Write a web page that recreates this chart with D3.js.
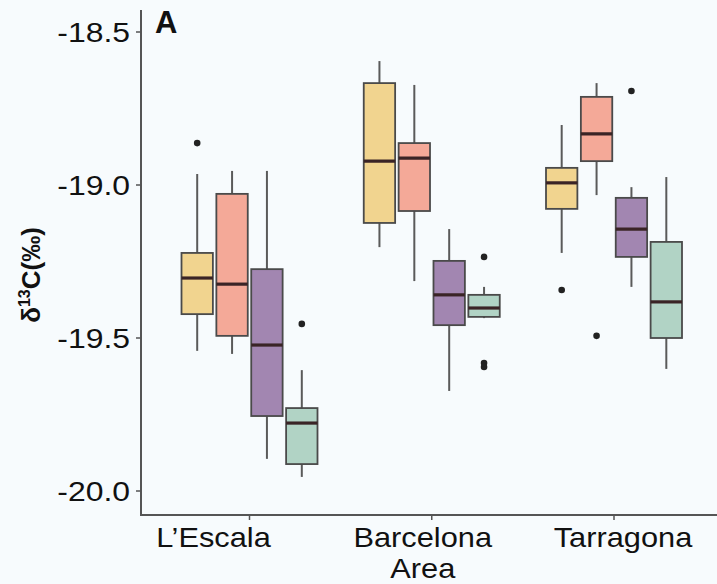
<!DOCTYPE html>
<html>
<head>
<meta charset="utf-8">
<script src="https://cdn.jsdelivr.net/npm/d3@7"></script>
<style>
  html, body { margin: 0; padding: 0; background: #f7fbfd; }
  svg { display: block; font-family: "Liberation Sans", Arial, sans-serif; }
</style>
</head>
<body>
<svg id="chart" width="717" height="584"></svg>
<script>
// ---------- data ----------
const sites = ["L’Escala", "Barcelona Area", "Tarragona"];
const siteLabels = [["L’Escala"], ["Barcelona", "Area"], ["Tarragona"]];
const series = ["S1", "S2", "S3", "S4"];
const colors = ["#f1d48f", "#f4a998", "#a286b1", "#b1d3c5"];
const yTicks = [-18.5, -19.0, -19.5, -20.0];

// rows = sites, columns = series
const whiskerHigh = [
  [-18.964, -18.954, -18.954, -19.605],
  [-18.595, -18.673, -19.144, -19.333],
  [-18.804, -18.667, -19.007, -18.974]
];
const q3 = [
  [-19.222, -19.029, -19.275, -19.729],
  [-18.667, -18.863, -19.248, -19.359],
  [-18.944, -18.712, -19.042, -19.186]
];
const median = [
  [-19.304, -19.324, -19.523, -19.778],
  [-18.922, -18.912, -19.359, -19.402],
  [-18.993, -18.833, -19.144, -19.382]
];
const q1 = [
  [-19.422, -19.493, -19.755, -19.912],
  [-19.124, -19.085, -19.458, -19.431],
  [-19.078, -18.922, -19.235, -19.500]
];
const whiskerLow = [
  [-19.542, -19.552, -19.895, -19.954],
  [-19.203, -19.314, -19.673, -19.435],
  [-19.222, -19.033, -19.333, -19.601]
];
// outliers: [site index, series index, value]
const outliers = [
  [0, 0, -18.863], [0, 3, -19.454],
  [1, 3, -19.235], [1, 3, -19.582], [1, 3, -19.595],
  [2, 0, -19.343], [2, 1, -19.493], [2, 2, -18.693]
];

// ---------- layout ----------
const svg = d3.select("#chart");
const panel = { left: 141, right: 717, top: 10, bottom: 515 };
const labelShift = [-36, -9, 9];
const stretch = 1.14; // horizontal stretch of the axis texts

const y = d3.scaleLinear().domain([-18.5, -20.0]).range([32, 491]);
const xSite = d3.scalePoint().domain(sites).range([249.5, 614]);
const xSeries = d3.scaleBand().domain(series).range([-68, 68]).paddingInner(0.1);

// boxes
const boxes = [];
sites.forEach((s, i) => series.forEach((g, j) => boxes.push({
  i, j, site: s, ser: g,
  wh: whiskerHigh[i][j], q3: q3[i][j], med: median[i][j], q1: q1[i][j], wl: whiskerLow[i][j]
})));

const gBox = svg.append("g").selectAll("g").data(boxes).join("g")
  .attr("transform", d => `translate(${xSite(d.site) + xSeries(d.ser)},0)`);
const bw = xSeries.bandwidth();

gBox.append("line")
  .attr("x1", bw / 2).attr("x2", bw / 2)
  .attr("y1", d => y(d.wh)).attr("y2", d => y(d.q3))
  .attr("stroke", "#5a5a5a").attr("stroke-width", 2);
gBox.append("line")
  .attr("x1", bw / 2).attr("x2", bw / 2)
  .attr("y1", d => y(d.q1)).attr("y2", d => y(d.wl))
  .attr("stroke", "#5a5a5a").attr("stroke-width", 2);
gBox.append("rect")
  .attr("x", 0).attr("width", bw)
  .attr("y", d => y(d.q3)).attr("height", d => y(d.q1) - y(d.q3))
  .attr("fill", d => colors[d.j])
  .attr("stroke", "#4a4a4a").attr("stroke-width", 1.8);
gBox.append("line")
  .attr("x1", 0).attr("x2", bw)
  .attr("y1", d => y(d.med)).attr("y2", d => y(d.med))
  .attr("stroke", "#3a2426").attr("stroke-width", 3.2);

// outliers
svg.append("g").selectAll("circle").data(outliers).join("circle")
  .attr("cx", d => xSite(sites[d[0]]) + xSeries(series[d[1]]) + bw / 2)
  .attr("cy", d => y(d[2]))
  .attr("r", 3.3)
  .attr("fill", "#222");

// y axis
const yAxis = svg.append("g").attr("transform", `translate(${panel.left},0)`);
yAxis.append("line")
  .attr("x1", 0).attr("x2", 0).attr("y1", panel.top).attr("y2", panel.bottom)
  .attr("stroke", "#555").attr("stroke-width", 2);
const yt = yAxis.selectAll("g.t").data(yTicks).join("g").attr("class", "t")
  .attr("transform", d => `translate(0,${y(d)})`);
yt.append("line").attr("x1", -5).attr("x2", 0).attr("stroke", "#555").attr("stroke-width", 1.5);
yt.append("text")
  .attr("transform", `scale(${stretch},1)`)
  .attr("x", -11 / stretch).attr("dy", "0.36em")
  .attr("text-anchor", "end")
  .attr("font-size", 28).attr("fill", "#111")
  .text(d => d3.format(".1f")(d).replace("−", "-"));

// x axis
const xAxis = svg.append("g").attr("transform", `translate(0,${panel.bottom})`);
xAxis.append("line")
  .attr("x1", panel.left - 1).attr("x2", panel.right).attr("y1", 0).attr("y2", 0)
  .attr("stroke", "#555").attr("stroke-width", 2);
const xt = xAxis.selectAll("g.t").data(sites).join("g").attr("class", "t")
  .attr("transform", d => `translate(${xSite(d)},0)`);
xt.append("line").attr("y1", 0).attr("y2", 5).attr("stroke", "#555").attr("stroke-width", 1.5);
xt.append("text")
  .attr("transform", `scale(${stretch},1)`)
  .attr("text-anchor", "middle")
  .attr("font-size", 27).attr("fill", "#111")
  .attr("x", (d, i) => labelShift[i] / stretch)
  .selectAll("tspan").data((d, i) => siteLabels[i]).join("tspan")
  .attr("x", function () { return d3.select(this.parentNode).attr("x"); })
  .attr("y", (d, k) => 32 + k * 31)
  .text(d => d);

// y title
const yTitle = svg.append("text")
  .attr("transform", "translate(40,275) rotate(-90)")
  .attr("text-anchor", "middle")
  .attr("font-size", 26).attr("font-weight", "bold").attr("fill", "#111");
yTitle.append("tspan").text("δ");
yTitle.append("tspan").attr("font-size", 16).attr("dy", -10).text("13");
yTitle.append("tspan").attr("dy", 10).text("C(‰)");

// panel tag
svg.append("text")
  .attr("x", 155).attr("y", 33)
  .attr("font-size", 31).attr("font-weight", "bold").attr("fill", "#111")
  .text("A");
</script>
</body>
</html>
